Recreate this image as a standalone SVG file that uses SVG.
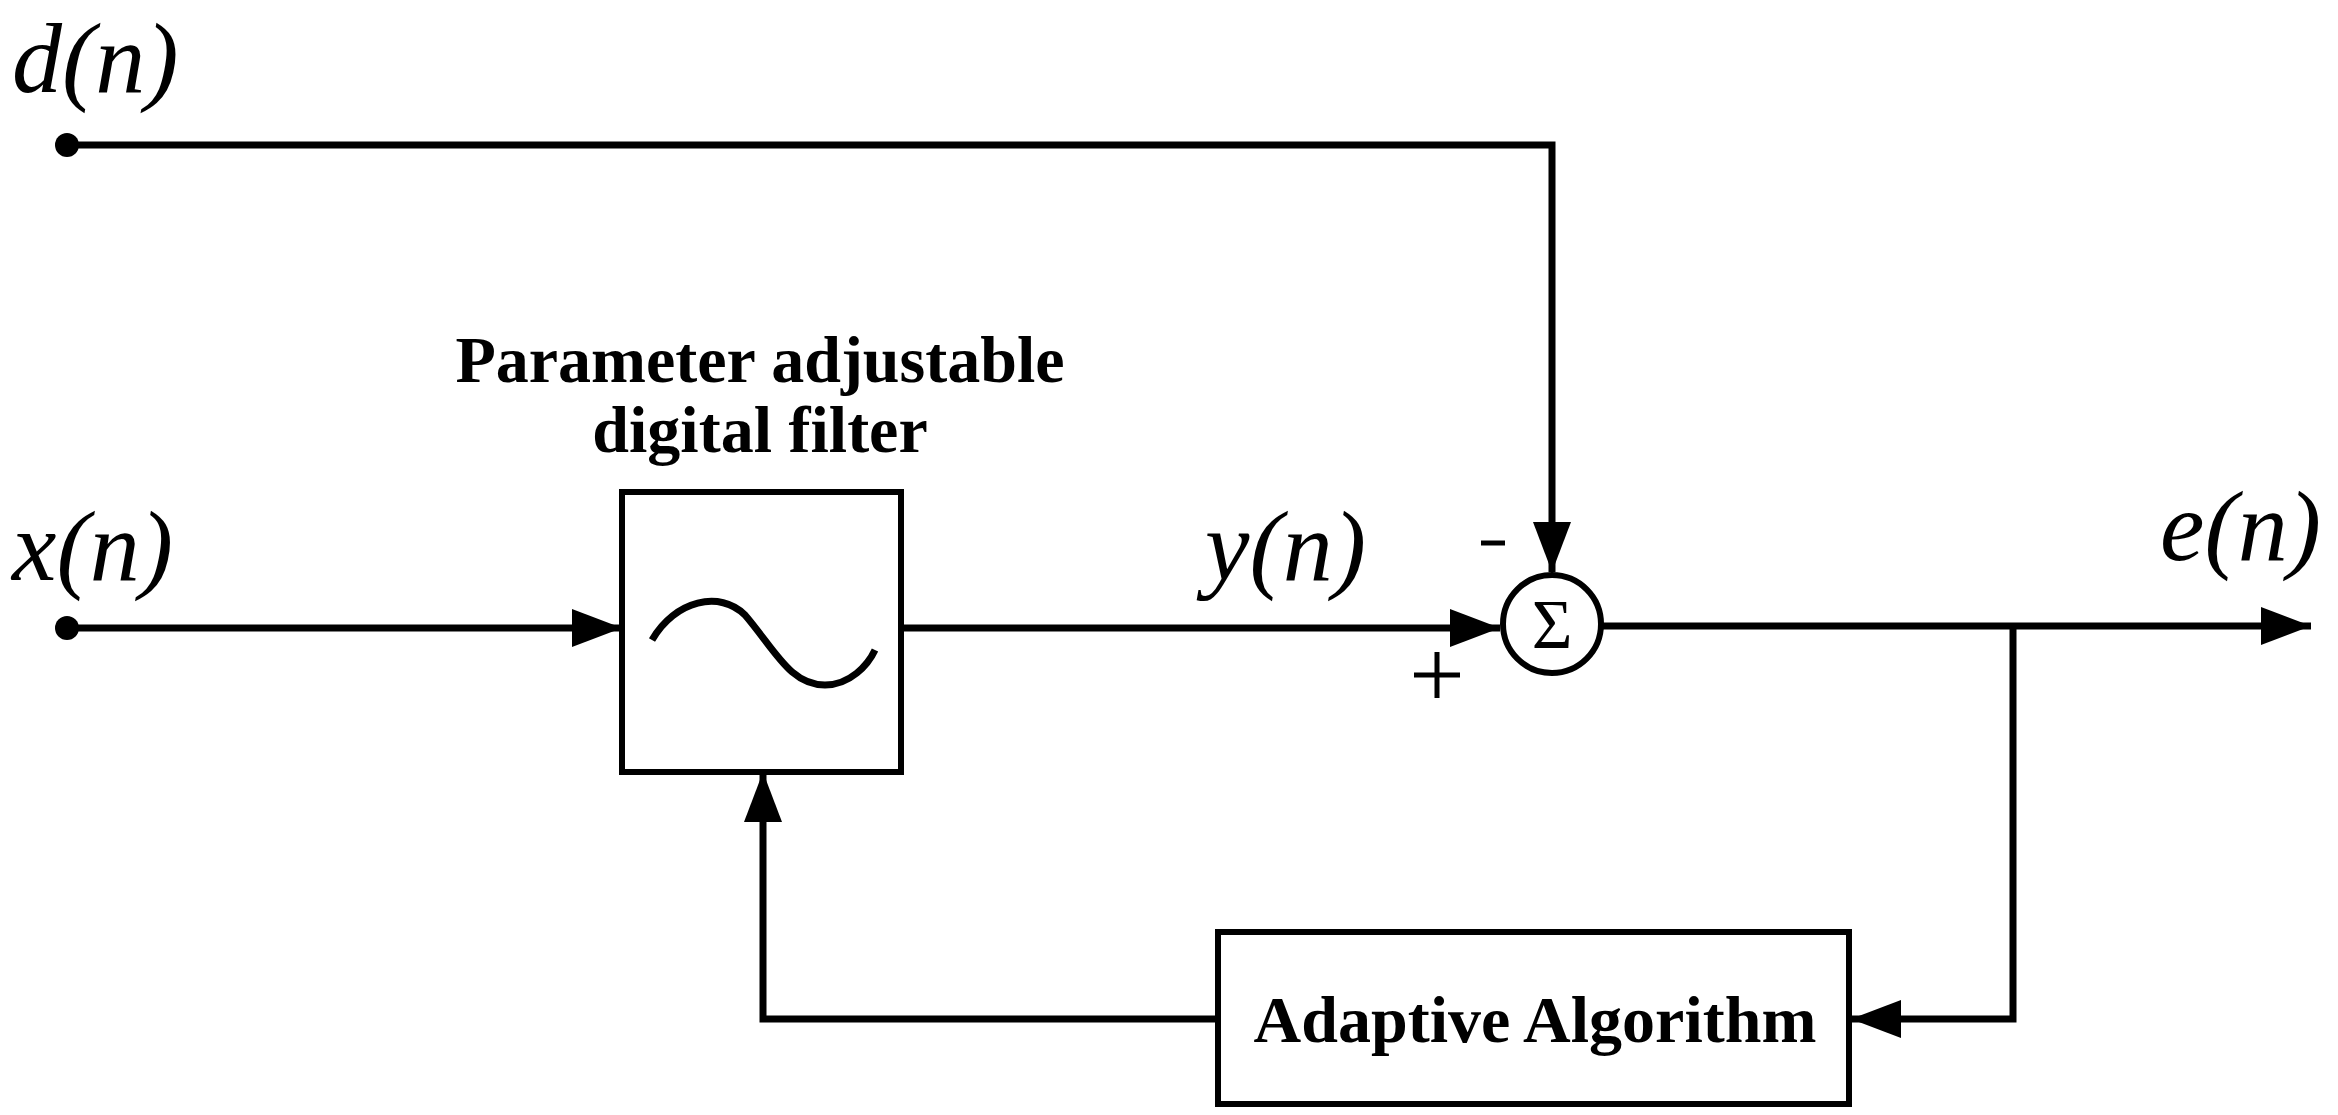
<svg xmlns="http://www.w3.org/2000/svg" width="2338" height="1115" viewBox="0 0 2338 1115">
<style>
.w{stroke:#000;stroke-width:7;fill:none}
.b{stroke:#000;stroke-width:6;fill:#fff}
.it{font-family:"Liberation Serif",serif;font-style:italic;font-size:100px}
.bt{font-family:"Liberation Serif",serif;font-weight:bold;font-size:66px;text-anchor:middle}
</style>
<defs>
<marker id="ar" viewBox="0 0 50 38" refX="50" refY="19" markerWidth="50" markerHeight="38" orient="auto" markerUnits="userSpaceOnUse"><path d="M0,0L50,19L0,38Z"/></marker></defs>
<rect width="2338" height="1115" fill="#fff"/>
<g id="connectors">
<circle cx="67" cy="145" r="12"/>
<circle cx="67" cy="628" r="12"/>
<polyline class="w" points="67,145 1552,145 1552,572" marker-end="url(#ar)"/>
<line class="w" x1="67" y1="628" x2="622" y2="628" marker-end="url(#ar)"/>
<line class="w" x1="901" y1="628" x2="1500" y2="628" marker-end="url(#ar)"/>
<line class="w" x1="1602" y1="626" x2="2311" y2="626" marker-end="url(#ar)"/>
<polyline class="w" points="2013,626 2013,1019 1851,1019" marker-end="url(#ar)"/>
<polyline class="w" points="1218,1019 763,1019 763,772" marker-end="url(#ar)"/>
</g>
<g id="filter">
<rect class="b" x="622" y="492" width="279" height="280"/>
<path class="w" d="M652,640 C675,600 720,590 745,615 C775,650 790,685 825,685 C850,685 868,665 875,650"/>
<text class="bt" x="760" y="382">Parameter adjustable</text>
<text class="bt" x="760" y="452">digital filter</text>
</g>
<g id="sum">
<circle class="b" cx="1552" cy="624" r="49"/>
<text x="1552" y="648" font-family="Liberation Serif,serif" font-size="70" text-anchor="middle">Σ</text>
<path d="M1481,543H1505" stroke="#000" stroke-width="5"/>
<path d="M1414,675H1460M1437,652V698" stroke="#000" stroke-width="5"/>
</g>
<g id="adaptive">
<rect class="b" x="1218" y="932" width="631" height="172"/>
<text class="bt" x="1535" y="1042">Adaptive Algorithm</text>
</g>
<g id="labels">
<text class="it" x="12" y="92">d(n)</text>
<text class="it" x="12" y="580">x(n)</text>
<text class="it" x="1205" y="580">y(n)</text>
<text class="it" x="2160" y="560">e(n)</text>
</g>
</svg>
